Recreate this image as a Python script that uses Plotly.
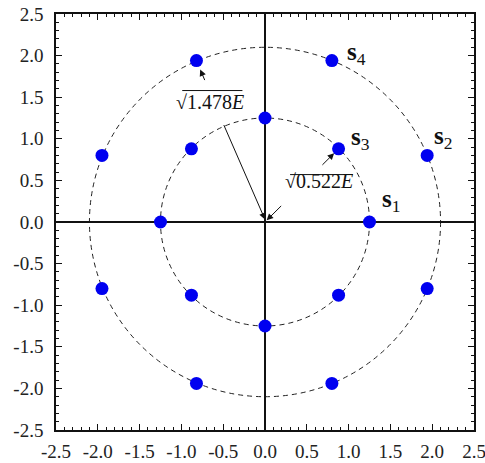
import plotly.graph_objects as go

# Data
inner_x = [1.25, 0.88, 0.0, -0.88, -1.25, -0.88, 0.0, 0.88]
inner_y = [0.0, 0.88, 1.25, 0.88, 0.0, -0.88, -1.25, -0.88]
outer_x = [1.94, 0.80, -0.82, -1.95, -1.95, -0.82, 0.80, 1.94]
outer_y = [0.80, 1.94, 1.94, 0.80, -0.80, -1.94, -1.94, -0.80]
circle_radii = [1.25, 2.1]
tick_vals = [-2.5, -2.0, -1.5, -1.0, -0.5, 0.0, 0.5, 1.0, 1.5, 2.0, 2.5]
tick_text = ["-2.5", "-2.0", "-1.5", "-1.0", "-0.5", "0.0", "0.5", "1.0", "1.5", "2.0", "2.5"]
minor_vals = [round(-2.5 + 0.1 * i, 1) for i in range(51)]
point_labels = [("4", 0.96, 2.03), ("3", 1.00, 1.00), ("2", 2.00, 1.01), ("1", 1.38, 0.26)]

SERIF = "Liberation Serif"

fig = go.Figure()

for r in circle_radii:
    fig.add_shape(type="circle", xref="x", yref="y", x0=-r, y0=-r, x1=r, y1=r,
                  line=dict(color="#222", width=1, dash="5px,4px"), layer="below")

fig.add_trace(go.Scatter(x=inner_x + outer_x, y=inner_y + outer_y, mode="markers",
                         marker=dict(size=13, color="#0000f0"), showlegend=False,
                         hoverinfo="skip"))

# point labels
for sub, x, y in point_labels:
    fig.add_annotation(x=x, y=y, xref="x", yref="y", xanchor="left", yanchor="middle",
                       text="<b>s</b><sub>" + sub + "</sub>", showarrow=False,
                       font=dict(family=SERIF, size=25, color="#111"))

# radius labels
fig.add_annotation(x=-0.66, y=1.44, text="√1.478<i>E</i>", showarrow=False,
                   font=dict(family=SERIF, size=20, color="#111"))
fig.add_annotation(x=0.64, y=0.49, text="√0.522<i>E</i>", showarrow=False,
                   font=dict(family=SERIF, size=20, color="#111"))
# vinculum lines
fig.add_shape(type="line", xref="x", yref="y", x0=-0.99, x1=-0.27, y0=1.58, y1=1.58,
              line=dict(color="#111", width=1))
fig.add_shape(type="line", xref="x", yref="y", x0=0.30, x1=1.05, y0=0.57, y1=0.57,
              line=dict(color="#111", width=1))

# arrows (outer: toward top-left outer point, inner: toward s3)
px_o, py_o = outer_x[2], outer_y[2]
px_i, py_i = inner_x[1], inner_y[1]
arrow_kw = dict(xref="x", yref="y", axref="x", ayref="y", showarrow=True, text="",
                arrowhead=2, arrowsize=1.3, arrowwidth=1, arrowcolor="#111", standoff=0)
fig.add_annotation(x=0.0, y=0.03, ax=px_o * 0.61, ay=py_o * 0.61, **arrow_kw)
fig.add_annotation(x=px_o * 0.945, y=py_o * 0.945, ax=px_o * 0.87, ay=py_o * 0.87, **arrow_kw)
fig.add_annotation(x=0.02, y=0.02, ax=px_i * 0.24, ay=py_i * 0.24, **arrow_kw)
fig.add_annotation(x=px_i * 0.94, y=py_i * 0.94, ax=px_i * 0.76, ay=py_i * 0.76, **arrow_kw)

axis_common = dict(
    range=[-2.5, 2.5], tickmode="array", tickvals=tick_vals, ticktext=tick_text,
    automargin=False, ticklabeloverflow="allow",
    showline=True, linecolor="#111", linewidth=1.5, mirror="ticks",
    ticks="inside", ticklen=6, tickwidth=1.3, tickcolor="#111",
    minor=dict(tickmode="array", tickvals=minor_vals, ticks="inside", ticklen=3,
               tickwidth=1, tickcolor="#111", showgrid=False),
    showgrid=False, zeroline=True, zerolinecolor="#111", zerolinewidth=1.5,
    tickfont=dict(family=SERIF, size=19, color="#222"),
)
fig.update_xaxes(ticklabelstandoff=3, **axis_common)
fig.update_yaxes(ticklabelstandoff=7, **axis_common)

fig.update_layout(width=485, height=463, margin=dict(l=56, r=11, t=14, b=33),
                  font=dict(family=SERIF, color="#222"),
                  plot_bgcolor="white", paper_bgcolor="white")

fig.write_html("out.html", config={"displayModeBar": False},
               post_script="document.body.style.margin='0';document.body.style.overflow='hidden';")
